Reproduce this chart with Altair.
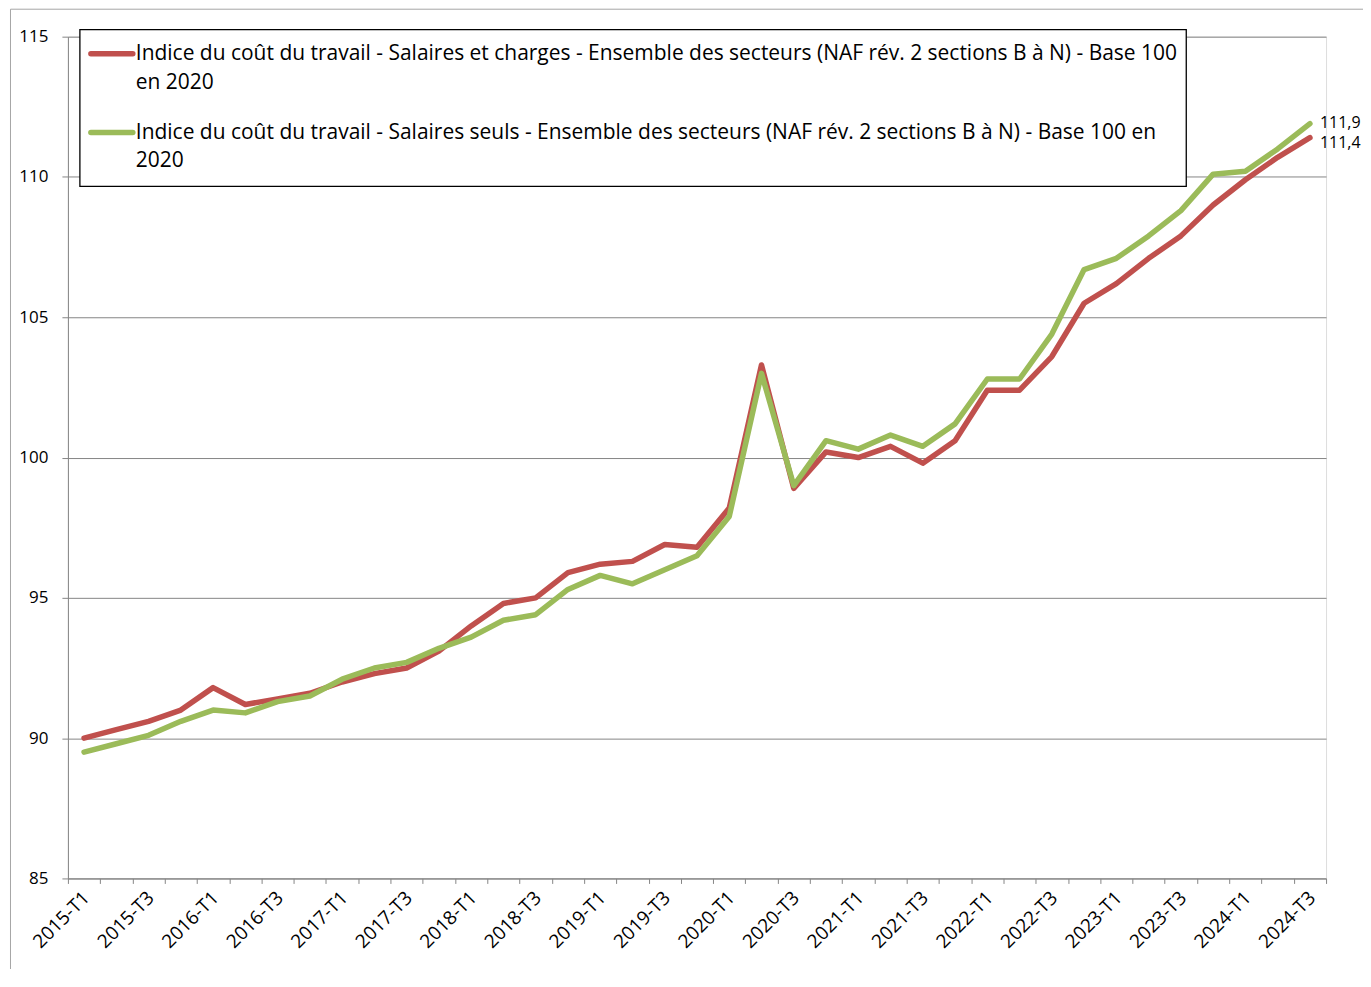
import altair as alt
import pandas as pd

# ---------------- data ----------------
quarters = [f"{y}-T{q}" for y in range(2015, 2025) for q in range(1, 5)][:39]

series_names = [
    "Indice du coût du travail - Salaires et charges - Ensemble des secteurs (NAF rév. 2 sections B à N) - Base 100 en 2020",
    "Indice du coût du travail - Salaires seuls - Ensemble des secteurs (NAF rév. 2 sections B à N) - Base 100 en 2020",
]
legend_lines = [
    ["Indice du coût du travail - Salaires et charges - Ensemble des secteurs (NAF rév. 2 sections B à N) - Base 100", "en 2020"],
    ["Indice du coût du travail - Salaires seuls - Ensemble des secteurs (NAF rév. 2 sections B à N) - Base 100 en", "2020"],
]

salaires_charges = [90.0, 90.3, 90.6, 91.0, 91.8, 91.2, 91.4, 91.6, 92.0, 92.3,
                    92.5, 93.1, 94.0, 94.8, 95.0, 95.9, 96.2, 96.3, 96.9, 96.8,
                    98.2, 103.3, 98.9, 100.2, 100.0, 100.4, 99.8, 100.6, 102.4, 102.4,
                    103.6, 105.5, 106.2, 107.1, 107.9, 109.0, 109.9, 110.7, 111.4]
salaires_seuls = [89.5, 89.8, 90.1, 90.6, 91.0, 90.9, 91.3, 91.5, 92.1, 92.5,
                  92.7, 93.2, 93.6, 94.2, 94.4, 95.3, 95.8, 95.5, 96.0, 96.5,
                  97.9, 103.0, 99.0, 100.6, 100.3, 100.8, 100.4, 101.2, 102.8, 102.8,
                  104.4, 106.7, 107.1, 107.9, 108.8, 110.1, 110.2, 111.0, 111.9]

y_ticks = [85, 90, 95, 100, 105, 110, 115]
colors = ["#C0504D", "#9BBB59"]

df = pd.DataFrame({
    "quarter": quarters * 2,
    "value": salaires_charges + salaires_seuls,
    "series": [series_names[0]] * len(quarters) + [series_names[1]] * len(quarters),
})

# ---------------- style ----------------
FONT = "Open Sans"
GRID = "#868686"
W, H = 1260, 843

x_enc = alt.X(
    "quarter:N", sort=quarters,
    scale=alt.Scale(type="band", paddingInner=0, paddingOuter=0),
    axis=alt.Axis(
        title=None, tickBand="extent", labelAngle=-45, labelAlign="right",
        labelBaseline="middle", labelPadding=11, labelOffset=2, tickSize=5,
        labelExpr="(indexof(datum.label, 'T2') >= 0 || indexof(datum.label, 'T4') >= 0) ? '' : datum.label",
        domainColor=GRID, tickColor=GRID, labelFont=FONT, labelFontSize=19,
        labelColor="#000000", grid=False, labelOverlap=False,
    ),
)
y_enc = alt.Y(
    "value:Q",
    scale=alt.Scale(domain=[85, 115], nice=False, zero=False),
    axis=alt.Axis(
        title=None, values=y_ticks, grid=True, gridColor=GRID, gridWidth=1,
        domainColor=GRID, tickColor=GRID, tickSize=6, labelPadding=14,
        labelFont=FONT, labelFontSize=17, labelColor="#000000",
    ),
)

base = alt.Chart(df)

layers = []
for i, name in enumerate(series_names):
    sub = base.transform_filter(alt.datum.series == name)
    layers.append(
        sub.mark_line(strokeWidth=5.5, strokeCap="round", strokeJoin="round", color=colors[i])
        .encode(x=x_enc, y=y_enc)
    )

label_dy = [5, -1]
for i, name in enumerate(series_names):
    layers.append(
        base.transform_filter((alt.datum.series == name) & (alt.datum.quarter == quarters[-1]))
        .transform_calculate(lbl="replace(format(datum.value, '.1f'), '.', ',')")
        .mark_text(align="left", baseline="middle", dx=10, dy=label_dy[i], font=FONT, fontSize=16, color="#000000")
        .encode(x=x_enc, y=y_enc, text="lbl:N")
    )

# outer chart frame
frame = alt.Chart(pd.DataFrame({"a": [0]})).mark_rect(fill=None, stroke="#A6A6A6", strokeWidth=1).encode(
    x=alt.value(-57.5), x2=alt.value(1400), y=alt.value(-27.5), y2=alt.value(1000)
)

# legend box
leg_box = alt.Chart(pd.DataFrame({"a": [0]})).mark_rect(fill="white", stroke="black", strokeWidth=1.3).encode(
    x=alt.value(12), x2=alt.value(1120), y=alt.value(-7), y2=alt.value(150)
)
leg_layers = [leg_box]
sym_y = [17, 96]
for i in range(2):
    leg_layers.append(
        alt.Chart(pd.DataFrame({"a": [0]})).mark_rule(strokeWidth=5.5, strokeCap="round", color=colors[i]).encode(
            x=alt.value(23), x2=alt.value(65), y=alt.value(sym_y[i])
        )
    )
    leg_layers.append(
        alt.Chart(pd.DataFrame({"a": [0]})).mark_text(
            align="left", baseline="middle", font=FONT, fontSize=21, lineHeight=29, color="#000000"
        ).encode(x=alt.value(68), y=alt.value(sym_y[i]), text=alt.value(legend_lines[i]))
    )

chart = alt.layer(frame, *layers, *leg_layers).properties(
    width=W, height=H,
    autosize=alt.AutoSizeParams(type="none"),
    padding={"left": 60, "top": 28, "right": 37, "bottom": 90},
).configure_view(stroke=None).configure(background="white")

chart.save("out.html", embed_options={"renderer": "svg", "actions": False})
